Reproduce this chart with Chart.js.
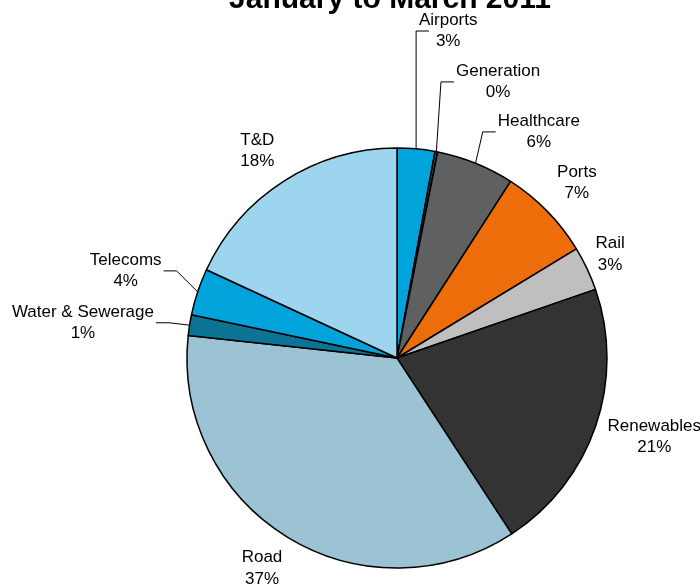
<!DOCTYPE html>
<html>
<head>
<meta charset="utf-8">
<script src="https://cdn.jsdelivr.net/npm/chart.js@4"></script>
<style>
  html, body { margin: 0; padding: 0; background: #ffffff; }
  #wrap { position: relative; width: 700px; height: 584px; }
</style>
</head>
<body>
<div id="wrap"><canvas id="c" width="700" height="584"></canvas></div>
<script>
// ---- data ----
const titleText = 'January to March 2011';
const categories = ['Airports', 'Generation', 'Healthcare', 'Ports', 'Rail', 'Renewables', 'Road', 'Water & Sewerage', 'Telecoms', 'T&D'];
const shares = [2.9, 0.2, 6.0, 7.2, 3.4, 21.1, 35.9, 1.6, 3.6, 18.1];
const shareLabels = ['3%', '0%', '6%', '7%', '3%', '21%', '37%', '1%', '4%', '18%'];

// ---- styling / layout ----
const sliceColors = ['#00a3da', '#3d4a55', '#5f6062', '#ec6d0a', '#bfbfbf', '#333333', '#9bc3d3', '#0b7393', '#00a3da', '#9dd5ee'];
// label placement: [angle in degrees clockwise from top, distance as multiple of radius, leader line?]
const labelSpots = [
  [8.9, 1.576, true],
  [20.1, 1.40, true],
  [32.1, 1.271, true],
  [45.8, 1.195, false],
  [64.0, 1.129, false],
  [107.0, 1.281, false],
  [212.7, 1.19, false],
  [276.4, 1.505, true],
  [287.8, 1.357, true],
  [326.0, 1.19, false]
];
const FONT = '"Liberation Sans", Arial, Helvetica, sans-serif';

const titlePlugin = {
  id: 'cutTitle',
  afterDraw(chart) {
    const ctx = chart.ctx;
    ctx.save();
    ctx.font = 'bold 30px ' + FONT;
    ctx.fillStyle = '#000000';
    ctx.textAlign = 'center';
    ctx.textBaseline = 'alphabetic';
    ctx.fillText(titleText, 390, 8);
    ctx.restore();
  }
};

const labelPlugin = {
  id: 'pieLabels',
  afterDatasetsDraw(chart) {
    const ctx = chart.ctx;
    const meta = chart.getDatasetMeta(0);
    ctx.save();
    ctx.font = '17px ' + FONT;
    ctx.fillStyle = '#000000';
    ctx.strokeStyle = '#000000';
    ctx.lineWidth = 1;
    ctx.textAlign = 'center';
    ctx.textBaseline = 'middle';
    const lineH = 21.5;
    meta.data.forEach((arc, i) => {
      const p = arc.getProps(['x', 'y', 'startAngle', 'endAngle', 'outerRadius'], true);
      const R = p.outerRadius;
      const mid = (p.startAngle + p.endAngle) / 2;
      const spot = labelSpots[i];
      const a = spot[0] * Math.PI / 180 - Math.PI / 2;
      const cx = p.x + spot[1] * R * Math.cos(a);
      const cy = p.y + spot[1] * R * Math.sin(a);
      if (spot[2]) {
        const rx = p.x + R * Math.cos(mid);
        const ry = p.y + R * Math.sin(mid);
        const halfW = Math.max(ctx.measureText(categories[i]).width, ctx.measureText(shareLabels[i]).width) / 2;
        const side = cx > rx ? 1 : -1;
        const edge = cx - side * halfW;
        let end = edge - side * 2;
        let elbow = end - side * 13;
        if (side > 0) { elbow = Math.max(elbow, rx); end = Math.max(end, elbow + 13); }
        else { elbow = Math.min(elbow, rx); end = Math.min(end, elbow - 13); }
        ctx.beginPath();
        ctx.moveTo(rx, ry);
        ctx.lineTo(elbow, cy);
        ctx.lineTo(end, cy);
        ctx.stroke();
      }
      ctx.fillText(categories[i], cx, cy - lineH / 2);
      ctx.fillText(shareLabels[i], cx, cy + lineH / 2);
    });
    ctx.restore();
  }
};

new Chart(document.getElementById('c'), {
  type: 'pie',
  data: {
    labels: categories,
    datasets: [{
      data: shares,
      backgroundColor: sliceColors,
      borderColor: '#000000',
      borderWidth: 1.5,
      radius: 210
    }]
  },
  options: {
    responsive: false,
    animation: false,
    events: [],
    layout: { padding: { left: 187, right: 93, top: 148, bottom: 16 } },
    plugins: {
      legend: { display: false },
      tooltip: { enabled: false },
      title: { display: false }
    }
  },
  plugins: [titlePlugin, labelPlugin]
});
</script>
</body>
</html>
